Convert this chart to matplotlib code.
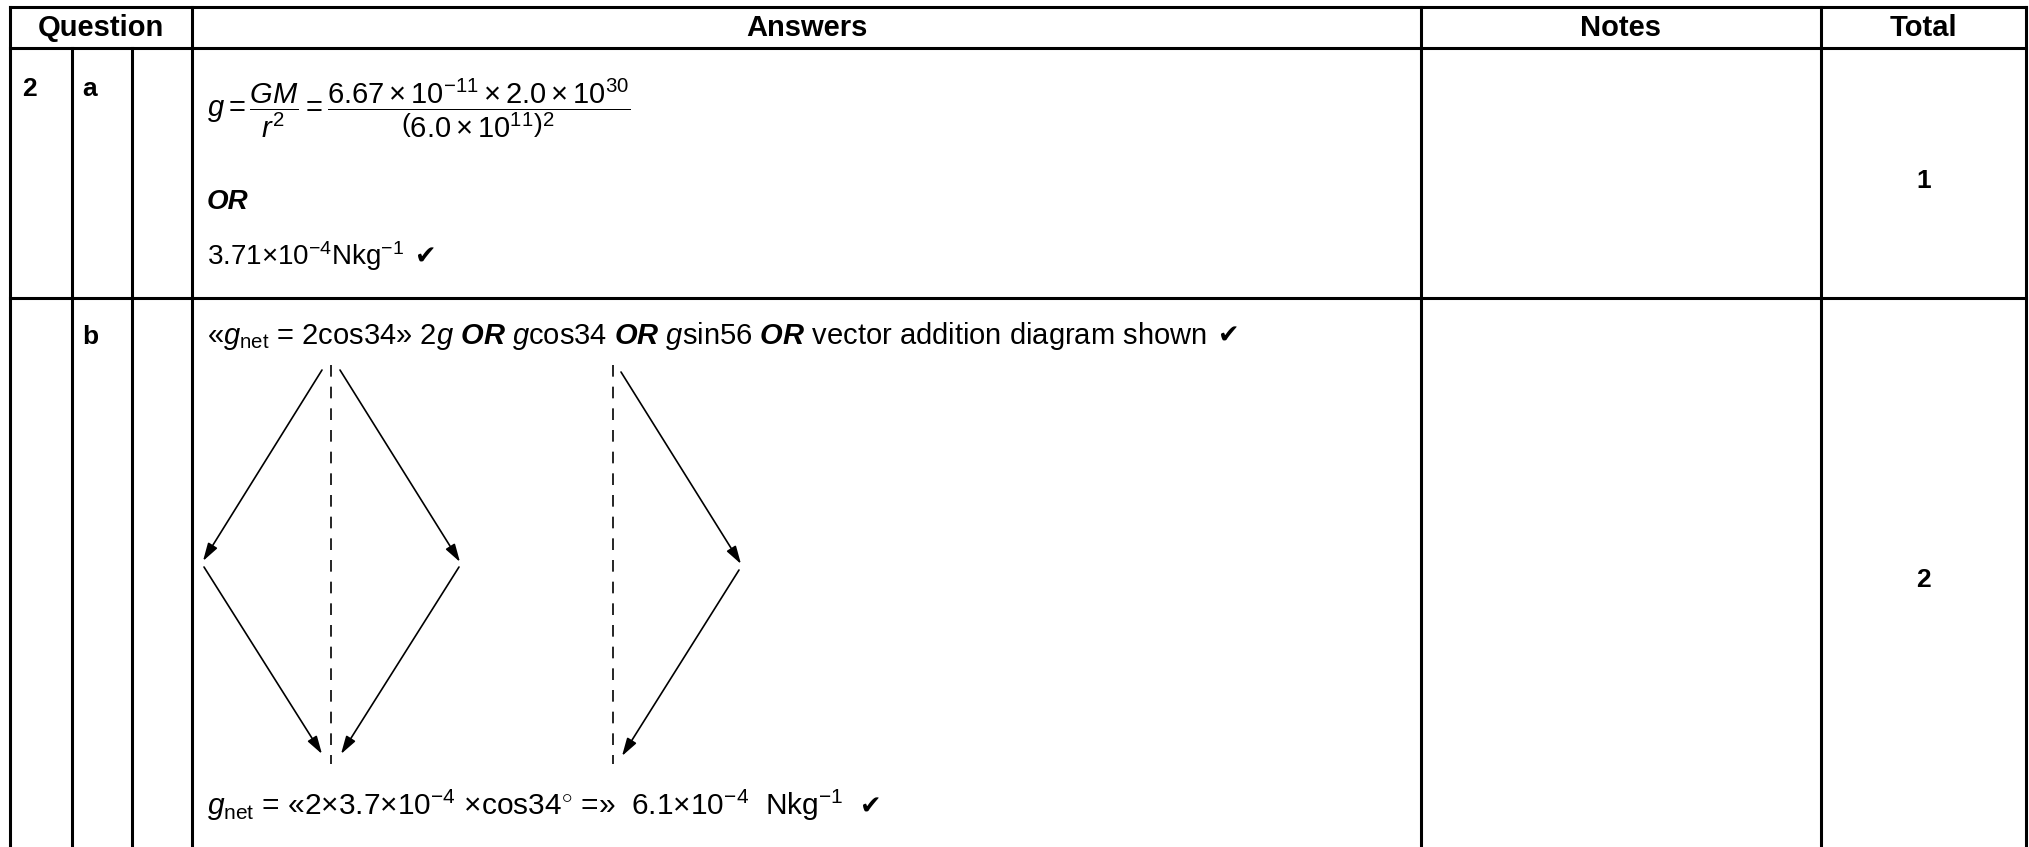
import matplotlib.pyplot as plt

plt.rcParams['font.family'] = ['Liberation Sans', 'DejaVu Sans']
plt.rcParams['mathtext.fontset'] = 'custom'
plt.rcParams['mathtext.rm'] = 'Liberation Sans'
plt.rcParams['mathtext.it'] = 'Liberation Sans:italic'
plt.rcParams['mathtext.bf'] = 'Liberation Sans:bold'
plt.rcParams['mathtext.bfit'] = 'Liberation Sans:italic:bold'
plt.rcParams['mathtext.sf'] = 'Liberation Sans'

# table layout (pixels in the 2029x847 picture)
col_edges = [10, 72, 132, 192, 1421, 1821, 2026]
row_edges = [7, 48, 298, 847]
headers = ['Question', 'Answers', 'Notes', 'Total']
header_spans = [(0, 3), (3, 4), (4, 5), (5, 6)]

question = '2'
parts = ['a', 'b']
totals = ['1', '2']

# answer text
ans_a_formula = (r'$g=\dfrac{GM}{r^{2}}=\dfrac{6.67\times10^{-11}\times2.0\times10^{30}}'
                 r'{\left(6.0\times10^{11}\right)^{2}}$')
ans_a_or = 'OR'
ans_a_value = r'3.71×10$^{-4}$Nkg$^{-1}$'
ans_b_line = (r'«$g_{\mathrm{net}}$ = 2cos34» 2$g$ $\mathbfit{OR}$ $g$cos34 '
              r'$\mathbfit{OR}$ $g$sin56 $\mathbfit{OR}$ vector addition diagram shown')
ans_b_value = (r'$g_{\mathrm{net}}$ = «2×3.7×10$^{-4}$ ×cos34$^{\circ}$ =»  '
               r'6.1×10$^{-4}$  Nkg$^{-1}$')
tick = '✔'

# vector addition diagram: (start, tip) of each arrow
arrows = [
    ((322, 370), (203, 561)),
    ((204, 567), (322, 754)),
    ((340, 370), (460, 562)),
    ((459, 567), (341, 754)),
    ((621, 372), (741, 564)),
    ((739, 570), (622, 756)),
]
dashed_x = [331, 613]
dashed_y = (365, 764)

fig = plt.figure(figsize=(20.29, 8.47), dpi=100)
ax = fig.add_axes([0, 0, 1, 1])
ax.set_xlim(0, 2029)
ax.set_ylim(847, 0)
ax.axis('off')
renderer = fig.canvas.get_renderer()


def add_tick(txt, y, gap, fs=18.5):
    # put the check mark right after a text object
    bb = txt.get_window_extent(renderer)
    x_end = ax.transData.inverted().transform((bb.x1, bb.y0))[0]
    ax.text(x_end + gap, y, tick, ha='left', va='baseline', fontsize=fs,
            family='DejaVu Sans')


lw = 2.2
for y in row_edges[:3]:
    ax.plot([col_edges[0], col_edges[-1]], [y, y], color='black', lw=lw)
for x in [col_edges[0], col_edges[3], col_edges[4], col_edges[5], col_edges[6]]:
    ax.plot([x, x], [row_edges[0], row_edges[-1]], color='black', lw=lw)
for x in [col_edges[1], col_edges[2]]:
    ax.plot([x, x], [row_edges[1], row_edges[-1]], color='black', lw=lw)

# headers
for label, (c0, c1) in zip(headers, header_spans):
    ax.text((col_edges[c0] + col_edges[c1]) / 2, (row_edges[0] + row_edges[1]) / 2 + 1, label,
            ha='center', va='center', fontsize=21, fontweight='bold')

# question / part labels
ax.text(22, 96, question, ha='left', va='baseline', fontsize=19, fontweight='bold')
ax.text(82, 96, parts[0], ha='left', va='baseline', fontsize=19, fontweight='bold')
ax.text(82, 344, parts[1], ha='left', va='baseline', fontsize=19, fontweight='bold')

# totals
tx = (col_edges[5] + col_edges[6]) / 2
ax.text(tx, 181, totals[0], ha='center', va='center', fontsize=19, fontweight='bold')
ax.text(tx, 580, totals[1], ha='center', va='center', fontsize=19, fontweight='bold')

# answers row a
ax.text(207, 108, ans_a_formula, ha='left', va='center', fontsize=21)
ax.text(207, 209, ans_a_or, ha='left', va='baseline', fontsize=20,
        fontweight='bold', fontstyle='italic')
t = ax.text(207, 265, ans_a_value, ha='left', va='baseline', fontsize=20)
add_tick(t, 265, 10)

# answers row b
t = ax.text(207, 344, ans_b_line, ha='left', va='baseline', fontsize=21)
add_tick(t, 344, 10)
t = ax.text(207, 815, ans_b_value, ha='left', va='baseline', fontsize=21.5)
add_tick(t, 815, 16)

# diagram
for x in dashed_x:
    ax.plot([x, x], dashed_y, color='black', lw=1.2, linestyle=(0, (7, 6)))
for start, tip in arrows:
    ax.annotate('', xy=tip, xytext=start,
                arrowprops=dict(arrowstyle='-|>,head_length=0.6,head_width=0.18',
                                color='black', lw=1.2, mutation_scale=18,
                                shrinkA=0, shrinkB=0))

fig.savefig('out.png', dpi=100, facecolor='white')
